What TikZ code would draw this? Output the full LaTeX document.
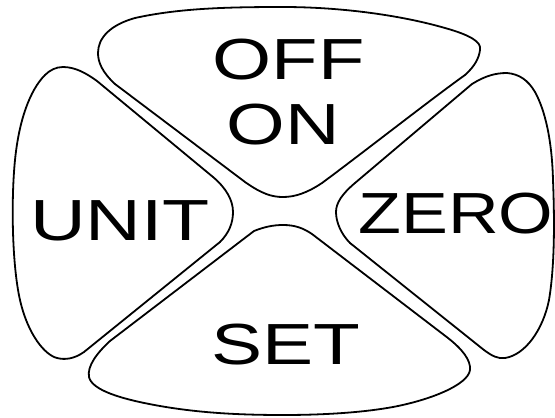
\documentclass[tikz,border=0pt]{standalone}
\usepackage{fontspec}
\usepackage{graphicx}
\setmainfont{Liberation Sans}
\tikzset{
  btn/.style={draw=black, line width=1.8pt, line join=round},
  lbl/.style={inner sep=0pt, font=\fontsize{58}{60}\selectfont, text=black}
}
\begin{document}
\begin{tikzpicture}[x=1pt,y=-1pt]
\fill[white] (0,0) rectangle (555,418);
\useasboundingbox (0,0) rectangle (555,418);

% top button (OFF / ON)
\draw[btn] (98,53) .. controls (98,38) and (110,25) .. (135,18)
 .. controls (180,8) and (230,7) .. (283,7)
 .. controls (340,7) and (400,15) .. (445,28)
 .. controls (470,35) and (482,42) .. (480,50)
 .. controls (479,58) and (475,66) .. (465,75)
 .. controls (430,100) and (360,155) .. (322,183)
 .. controls (307,193) and (295,197) .. (283,197)
 .. controls (272,197) and (262,194) .. (245,182)
 -- (115,84)
 .. controls (102,72) and (98,62) .. (98,53) -- cycle;

% left button (UNIT)
\draw[btn] (63,67) .. controls (75,67) and (86,73) .. (97,81)
 -- (213,177)
 .. controls (226,188) and (233,200) .. (233,212)
 .. controls (233,223) and (229,233) .. (220,242)
 -- (84,352)
 .. controls (74,359) and (65,360) .. (57,358)
 .. controls (45,355) and (28,335) .. (20,300)
 .. controls (12,265) and (11,200) .. (15,160)
 .. controls (19,120) and (30,90) .. (45,75)
 .. controls (50,70) and (56,67) .. (63,67) -- cycle;

% right button (ZERO)
\draw[btn] (507,73) .. controls (519,74) and (528,80) .. (535,92)
 .. controls (545,110) and (552,140) .. (553,180)
 .. controls (555,230) and (554,270) .. (549,300)
 .. controls (543,330) and (525,355) .. (505,358)
 .. controls (498,359) and (492,356) .. (484,350)
 -- (350,243)
 .. controls (341,234) and (336,222) .. (336,212)
 .. controls (336,203) and (342,194) .. (355,183)
 -- (472,84)
 .. controls (485,76) and (495,73) .. (507,73) -- cycle;

% bottom button (SET)
\draw[btn] (283,225) .. controls (295,225) and (303,228) .. (312,234)
 -- (448,338)
 .. controls (462,349) and (471,360) .. (470,370)
 .. controls (468,385) and (430,400) .. (393,407)
 .. controls (360,413) and (320,415) .. (283,415)
 .. controls (240,415) and (200,413) .. (160,406)
 .. controls (120,399) and (92,390) .. (89,377)
 .. controls (87,366) and (97,353) .. (110,341)
 -- (254,231)
 .. controls (264,227) and (273,225) .. (283,225) -- cycle;

\node[lbl] (off) at (288.5,59.5) {\scalebox{1.31}[1]{OFF}};
\node[lbl] (on) at (283.5,125) {\scalebox{1.30}[1]{ON}};
\node[lbl] (unit) at (120,220.5) {\scalebox{1.33}[1]{UNIT}};
\node[lbl] (zero) at (456,214) {\scalebox{1.21}[1]{ZERO}};
\node[lbl] (set) at (286,344.5) {\scalebox{1.32}[1]{SET}};
\end{tikzpicture}
\end{document}
